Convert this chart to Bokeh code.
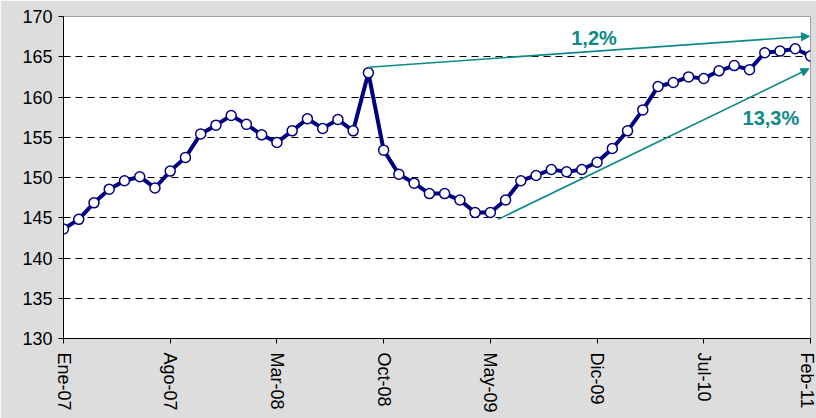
from bokeh.plotting import figure
from bokeh.models import (ColumnDataSource, FixedTicker, Arrow, NormalHead, Range1d)
from bokeh.core.properties import value
from bokeh.embed import file_html
from bokeh.resources import INLINE

# Monthly index, Ene-07 .. Feb-11 (50 months)
month_index = list(range(50))
index_values = [143.6, 144.8, 146.85, 148.55, 149.6, 150.1, 148.7, 150.8, 152.5, 155.4,
                 156.5, 157.7, 156.6, 155.3, 154.35, 155.8, 157.3, 156.1, 157.2, 155.8,
                 163.0, 153.4, 150.4, 149.3, 148.0, 148.0, 147.2, 145.65, 145.65, 147.2,
                 149.6, 150.25, 151.0, 150.7, 151.0, 151.9, 153.6, 155.8, 158.4, 161.3,
                 161.8, 162.5, 162.3, 163.25, 163.9, 163.4, 165.5, 165.7, 166.0, 165.1]

tick_positions = [0, 7, 14, 21, 28, 35, 42, 49]
tick_labels = ["Ene-07", "Ago-07", "Mar-08", "Oct-08", "May-09", "Dic-09", "Jul-10", "Feb-11"]
y_ticks = [130, 135, 140, 145, 150, 155, 160, 165, 170]

# Annotation arrows and labels
arrow_x_start = [20.0, 28.5]
arrow_y_start = [163.7, 144.8]
arrow_x_end = [48.93, 48.9]
arrow_y_end = [167.55, 163.5]
label_x = [34.8, 46.4]
label_y = [167.27, 157.33]
label_text = ["1,2%", "13,3%"]

TEAL = "#0E8A87"
NAVY = "#000080"

p = figure(width=816, height=418, output_backend="svg", toolbar_location=None,
           x_range=Range1d(0, 49), y_range=Range1d(130, 170),
           min_border_left=63, min_border_right=6, min_border_top=16, min_border_bottom=80)

p.border_fill_color = "#DDDDDD"
p.background_fill_color = "white"
p.outline_line_color = "#A0A0A0"
p.outline_line_width = 1

p.xgrid.grid_line_color = None
p.ygrid.grid_line_color = "#000000"
p.ygrid.grid_line_dash = "7 5"
p.ygrid.grid_line_width = 1

p.yaxis.ticker = FixedTicker(ticks=y_ticks)
p.yaxis.major_label_text_font = "Liberation Sans"
p.yaxis.major_label_text_font_size = "18px"
p.yaxis.major_label_text_color = "#000000"
p.yaxis.major_tick_out = 5
p.yaxis.major_tick_in = 0
p.yaxis.minor_tick_line_color = None
p.yaxis.major_label_standoff = 6
p.yaxis.axis_line_color = "#000000"

p.xaxis.ticker = FixedTicker(ticks=tick_positions)
p.xaxis.major_label_overrides = {pos: lab for pos, lab in zip(tick_positions, tick_labels)}
p.xaxis.major_label_orientation = "vertical"
p.xaxis.major_label_text_font = "Liberation Sans"
p.xaxis.major_label_text_font_size = "18px"
p.xaxis.major_label_text_color = "#000000"
p.xaxis.major_tick_out = 5
p.xaxis.major_tick_in = 0
p.xaxis.minor_tick_line_color = None
p.xaxis.major_label_standoff = 9
p.xaxis.axis_line_color = "#000000"

src = ColumnDataSource(dict(x=month_index, y=index_values))
p.line("x", "y", source=src, line_color=NAVY, line_width=4)
p.scatter("x", "y", source=src, size=10, fill_color="white", line_color=NAVY, line_width=1.5)

arrow_src = ColumnDataSource(dict(x0=arrow_x_start, y0=arrow_y_start, x1=arrow_x_end, y1=arrow_y_end))
p.add_layout(Arrow(end=NormalHead(size=8, fill_color=TEAL, line_color=TEAL),
                   x_start="x0", y_start="y0", x_end="x1", y_end="y1", source=arrow_src,
                   line_color=TEAL, line_width=1.6))

lab_src = ColumnDataSource(dict(x=label_x, y=label_y, t=label_text))
p.text("x", "y", text="t", source=lab_src, text_color=TEAL, text_font=value("Liberation Sans"),
       text_font_size="20px", text_font_style="bold", text_align="center", text_baseline="middle")

open("out.html", "w").write(file_html(p, INLINE))
